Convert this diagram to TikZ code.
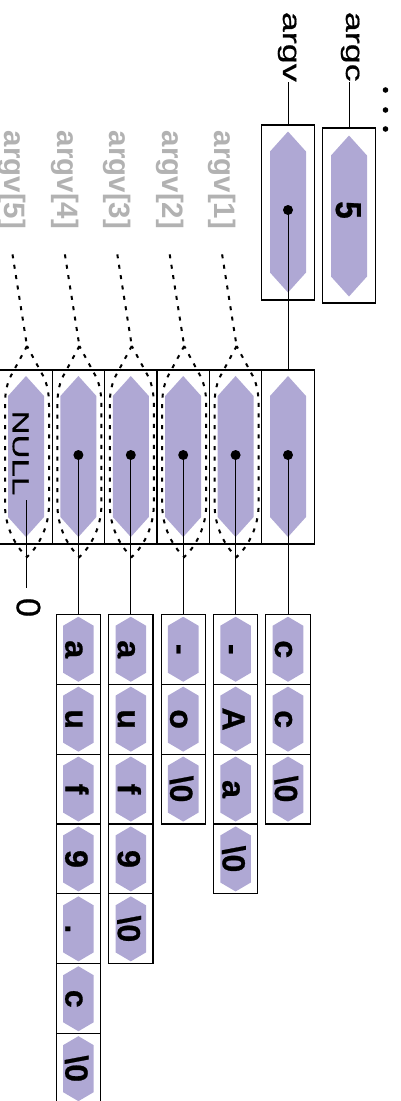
\documentclass[tikz,border=0pt]{standalone}
\usepackage{fontspec}
\setmainfont{Liberation Sans}
\newfontfamily\namefont{Liberation Sans}[FakeBold=0.6]
\newfontfamily\charfont{Liberation Sans}[BoldFeatures={FakeBold=0.8}]
\definecolor{cellfill}{RGB}{175,168,212}
\definecolor{idxgray}{RGB}{178,178,178}
\tikzset{
  cellbox/.style={draw, line width=1.1pt, rectangle, inner sep=0pt},
  bighex/.pic={\fill[cellfill] (0,-80.5) -- (18,-60.5) -- (18,60.5) -- (0,80.5) -- (-18,60.5) -- (-18,-60.5) -- cycle;},
  smallhex/.pic={\fill[cellfill] (0,-32.5) -- (15.3,-23.5) -- (15.3,23.5) -- (0,32.5) -- (-15.3,23.5) -- (-15.3,-23.5) -- cycle;},
  ptrdot/.style={circle, fill=black, inner sep=0pt, minimum size=10pt},
  link/.style={line width=1pt},
  dotline/.style={line width=2pt, dash pattern=on 4pt off 6.5pt},
  chartext/.style={rotate=-90, anchor=base, inner sep=0pt, font=\charfont\fontsize{32}{32}\selectfont\bfseries},
  namelabel/.style={rotate=-90, inner sep=0pt, font=\namefont\fontsize{25}{25}\selectfont},
  idxlabel/.style={rotate=-90, inner sep=0pt, text=idxgray, font=\fontsize{29.5}{29.5}\selectfont\bfseries},
}
\begin{document}
\begin{tikzpicture}[x=1pt, y=-1pt]
\useasboundingbox (0,0) rectangle (400,1101);

% argc and argv variables
\node[cellbox, minimum width=52.4pt, minimum height=175pt] (argvbox) at (288,212.5) {};
\pic at (288,212) {bighex};
\node[ptrdot] (argvdot) at (288,210) {};
\node[cellbox, minimum width=52.4pt, minimum height=175pt] (argcbox) at (349,215.5) {};
\pic at (349,216) {bighex};
\node[rotate=-90, anchor=base, inner sep=0pt, font=\charfont\fontsize{36}{36}\selectfont\bfseries] (argcval) at (336,210) {\scalebox{0.87}[1]{5}};

\node[namelabel, anchor=base east] (argclab) at (346,82) {\scalebox{1.44}[1]{argc}};
\node[namelabel, anchor=base east] (argvlab) at (283,82) {\scalebox{1.44}[1]{argv}};
\draw[link] (argclab.east -| argcbox.north) -- (argcbox.north);
\draw[link] (argvlab.east -| argvbox.north) -- (argvbox.north);

% stack continues above
\fill (385.5,90) circle (2.8);
\fill (385.5,110) circle (2.8);
\fill (385.5,129) circle (2.8);

% the argv pointer array
\foreach \i in {0,...,5} {
  \pgfmathsetmacro\cx{288-52.4*\i}
  \node[cellbox, minimum width=52.4pt, minimum height=174pt] (cell\i) at (\cx,457) {};
  \pic at (\cx,456.5) {bighex};
}
\foreach \i in {0,...,4} {
  \pgfmathsetmacro\cx{288-52.4*\i}
  \node[ptrdot] (d\i) at (\cx,455) {};
}
\draw[link] (argvdot.center) -- (cell0.north);

% terminating NULL entry
\node[namelabel, anchor=base, font=\namefont\fontsize{23}{23}\selectfont] (nulllab) at (12.7,453) {\scalebox{1.44}[1]{NULL}};
\coordinate (nullend) at (26,500);
\node[rotate=-90, anchor=base, inner sep=0pt, font=\namefont\fontsize{34}{34}\selectfont] (zero) at (16.7,607.5) {0};
\draw[link, shorten >=10pt] (nullend) -- (nullend |- zero.west);

% index labels with dotted highlights
\foreach \i in {1,...,5} {
  \pgfmathsetmacro\cx{288-52.4*\i}
  \coordinate (apex\i) at (\cx+1,346);
  \draw[dotline] (apex\i) -- (\cx-13,372) .. controls (\cx-19,382) and (\cx-21,392) .. (\cx-21,405)
    -- (\cx-21,505) .. controls (\cx-21,525) and (\cx-12,545) .. (\cx+1,557)
    .. controls (\cx+14,545) and (\cx+23,525) .. (\cx+23,505)
    -- (\cx+23,405) .. controls (\cx+23,392) and (\cx+21,382) .. (\cx+15,372) -- cycle;
  \node[idxlabel] (lab\i) at (\cx-13.5,180) {argv[\i]};
  \draw[dotline] ([yshift=-25pt]lab\i.east) -- (apex\i);
}

% the argument strings
\foreach \i/\chars in {0/{c,c,\textbackslash 0}, 1/{-,A,a,\textbackslash 0}, 2/{-,o,\textbackslash 0},
                       3/{a,u,f,9,\textbackslash 0}, 4/{a,u,f,9,.,c,\textbackslash 0}} {
  \pgfmathsetmacro\cx{288-52.4*\i}
  \foreach \ch [count=\k from 0] in \chars {
    \pgfmathsetmacro\cy{649.25+69.9*\k}
    \node[cellbox, minimum width=44.3pt, minimum height=69.9pt] (s\i-\k) at (\cx,\cy) {};
    \pic at (\cx,\cy) {smallhex};
    \node[chartext] (t\i-\k) at (\cx-13,\cy) {\ch};
  }
  \draw[link] (d\i.center) -- (s\i-0.north);
}
\end{tikzpicture}
\end{document}
